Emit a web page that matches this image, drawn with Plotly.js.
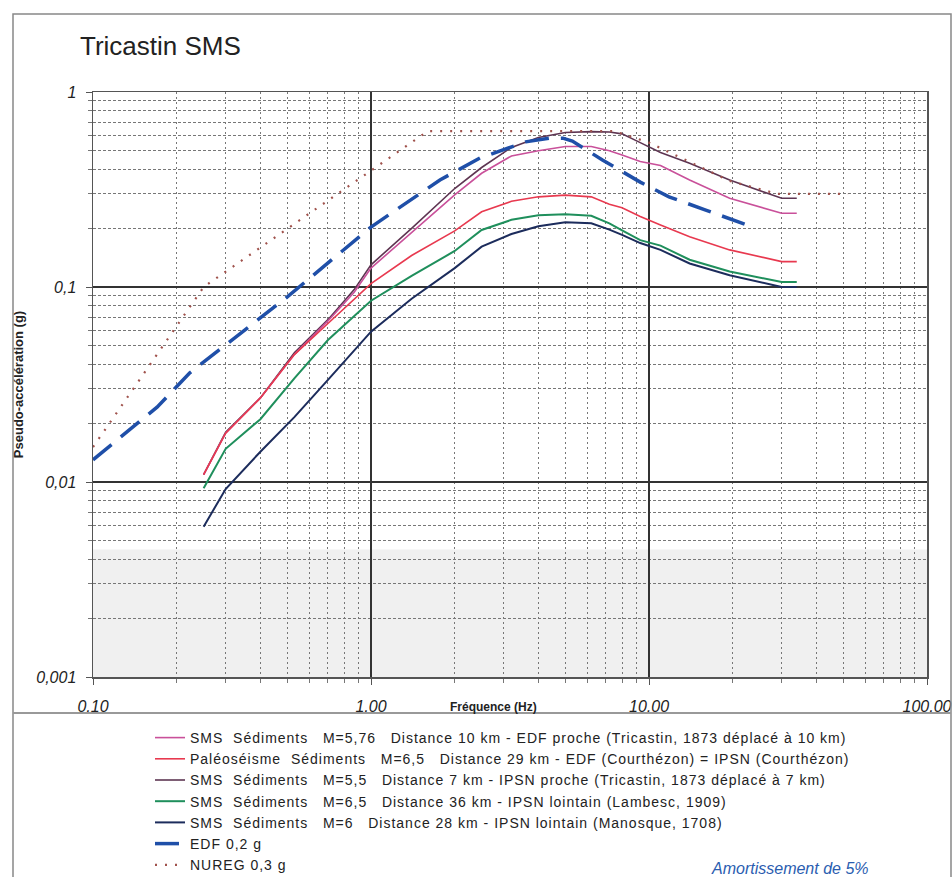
<!DOCTYPE html>
<html>
<head>
<meta charset="utf-8">
<script src="https://cdn.plot.ly/plotly-3.0.1.min.js"></script>
<style>
html,body{margin:0;padding:0;background:#fff;}
#chart{width:952px;height:877px;}
.legendtext{letter-spacing:1px;}
</style>
</head>
<body>
<div id="chart"></div>
<script>
// ---- data ----
const freqSMS = [0.25,0.3,0.4,0.53,0.7,0.87,1.0,1.4,2.0,2.5,3.2,4.0,5.0,6.2,7.2,8.0,9.3,11,14,19.5,30,34];
const smsM576_10km = [0.0109,0.0178,0.027,0.045,0.067,0.094,0.125,0.19,0.297,0.383,0.47,0.50,0.525,0.525,0.50,0.475,0.44,0.42,0.354,0.285,0.239,0.239];
const paleoM65_29km = [0.0109,0.0178,0.027,0.045,0.065,0.086,0.104,0.145,0.194,0.243,0.275,0.29,0.296,0.29,0.266,0.255,0.23,0.208,0.181,0.155,0.135,0.135];
const smsM55_7km = [0.0109,0.018,0.027,0.046,0.068,0.097,0.130,0.20,0.320,0.41,0.52,0.585,0.620,0.626,0.624,0.61,0.55,0.49,0.431,0.354,0.285,0.285];
const smsM65_36km = [0.0093,0.0148,0.021,0.034,0.0535,0.071,0.085,0.114,0.153,0.196,0.221,0.233,0.236,0.232,0.212,0.195,0.174,0.163,0.138,0.12,0.106,0.106];
const smsM6_28km = [0.0059,0.0092,0.0143,0.0215,0.0334,0.047,0.059,0.087,0.125,0.161,0.187,0.205,0.215,0.212,0.197,0.185,0.168,0.155,0.132,0.115,0.10,0.10];

const freqEDF = [0.1,0.17,0.223,0.5,1.0,1.77,2.47,2.82,3.6,4.4,4.9,5.3,6.8,9.3,11.8,16,22.7];
const edf02g = [0.013,0.0242,0.0363,0.089,0.203,0.354,0.459,0.49,0.555,0.58,0.58,0.56,0.448,0.345,0.29,0.248,0.207];

const freqNUREG = [0.1,0.25,1.6,7.5,10,12.2,19.5,29,33,52];
const nureg03g = [0.0151,0.1,0.63,0.63,0.55,0.48,0.35,0.30,0.30,0.30];

const seriesNames = [
  "SMS&nbsp; Sédiments&nbsp;&nbsp; M=5,76&nbsp;&nbsp; Distance 10 km - EDF proche (Tricastin, 1873 déplacé à 10 km)",
  "Paléoséisme&nbsp; Sédiments&nbsp;&nbsp; M=6,5&nbsp;&nbsp; Distance 29 km - EDF (Courthézon) = IPSN (Courthézon)",
  "SMS&nbsp; Sédiments&nbsp;&nbsp; M=5,5&nbsp;&nbsp; Distance 7 km - IPSN proche (Tricastin, 1873 déplacé à 7 km)",
  "SMS&nbsp; Sédiments&nbsp;&nbsp; M=6,5&nbsp;&nbsp; Distance 36 km - IPSN lointain (Lambesc, 1909)",
  "SMS&nbsp; Sédiments&nbsp;&nbsp; M=6&nbsp;&nbsp; Distance 28 km - IPSN lointain (Manosque, 1708)",
  "EDF 0,2 g",
  "NUREG 0,3 g"
];

const xTickVals = [0.1,1,10,100];
const xTickText = ["0,10","1,00","10,00","100,00"];
const yTickVals = [0.001,0.01,0.1,1];
const yTickText = ["0,001","0,01","0,1","1"];

// minor tick positions (2..9 per decade)
function minorTicks(e0, e1){
  const out=[];
  for(let e=e0;e<e1;e++){ for(let d=2;d<=9;d++){ out.push(d*Math.pow(10,e)); } }
  return out;
}

const font = "Arial, 'Liberation Sans', sans-serif";

// drawing order chosen so the red curve sits on top at low frequency; legend order via legendrank
const traces = [
  {x:freqSMS, y:smsM55_7km, name:seriesNames[2], legendrank:3, mode:'lines', line:{color:'#5e3552', width:1.6}},
  {x:freqSMS, y:smsM576_10km, name:seriesNames[0], legendrank:1, mode:'lines', line:{color:'#c9509a', width:1.6}},
  {x:freqSMS, y:paleoM65_29km, name:seriesNames[1], legendrank:2, mode:'lines', line:{color:'#e8394f', width:1.6}},
  {x:freqSMS, y:smsM6_28km, name:seriesNames[4], legendrank:5, mode:'lines', line:{color:'#1c2c5c', width:2}},
  {x:freqSMS, y:smsM65_36km, name:seriesNames[3], legendrank:4, mode:'lines', line:{color:'#1f8f5c', width:2}},
  {x:freqEDF, y:edf02g, name:seriesNames[5], legendrank:6, mode:'lines', line:{color:'#1f4fa8', width:3.5, dash:'24px,12px'}},
  {x:freqNUREG, y:nureg03g, name:seriesNames[6], legendrank:7, mode:'lines', line:{color:'#a0524c', width:2.2, dash:'2px,8px'}}
];

// pixel helpers for frame shapes in paper coords
const L=93, R=927, T=92, B=677;
const px = v => (v-L)/(R-L);
const py = v => (B-v)/(B-T);

const layout = {
  width:952, height:877,
  margin:{l:L, r:952-R, t:T, b:877-B, autoexpand:false},
  paper_bgcolor:'#ffffff', plot_bgcolor:'#ffffff',
  showlegend:true,
  title:{text:'Tricastin SMS', xref:'container', yref:'container', x:80/952, xanchor:'left', y:1-46/877, yanchor:'middle',
         font:{family:font, size:26, color:'#222'}},
  xaxis:{type:'log', range:[-1,2], tickmode:'array', tickvals:xTickVals, ticktext:xTickText,
         tickfont:{family:font, size:16, color:'#222', style:'italic'}, ticks:'outside', ticklen:6, tickcolor:'#555',
         ticklabelstandoff:8,
         showgrid:true, gridcolor:'#333', gridwidth:1.2, showline:true, linecolor:'#555', linewidth:1.5, mirror:true,
         zeroline:false,
         minor:{tickmode:'array', tickvals:minorTicks(-1,2), showgrid:true, gridcolor:'#777', gridwidth:1, griddash:'2px,3px', ticks:'outside', ticklen:4, tickcolor:'#777'}},
  yaxis:{type:'log', range:[-3,0], tickmode:'array', tickvals:yTickVals, ticktext:yTickText,
         tickfont:{family:font, size:16, color:'#222', style:'italic'}, ticks:'outside', ticklen:6, tickcolor:'#555',
         ticklabelstandoff:6,
         title:{text:'Pseudo-accélération (g)', font:{family:font, size:13, color:'#222', weight:'bold'}, standoff:9},
         showgrid:true, gridcolor:'#333', gridwidth:1.2, showline:true, linecolor:'#555', linewidth:1.5, mirror:true,
         zeroline:false,
         minor:{tickmode:'array', tickvals:minorTicks(-3,0), showgrid:true, gridcolor:'#777', gridwidth:1, griddash:'3px,2px', ticks:'outside', ticklen:4, tickcolor:'#777'}},
  legend:{x:px(150), xanchor:'left', y:py(722), yanchor:'top', bgcolor:'rgba(0,0,0,0)', borderwidth:0,
          font:{family:font, size:14, color:'#222'}, tracegroupgap:0, itemwidth:30, traceorder:'normal'},
  annotations:[
    {text:'Fréquence (Hz)', xref:'paper', yref:'paper', x:px(493), y:py(707), xanchor:'center', yanchor:'middle', showarrow:false,
     font:{family:font, size:12, color:'#222', weight:'bold'}},
    {text:'<i>Amortissement de 5%</i>', xref:'paper', yref:'paper', x:px(790), y:py(868), xanchor:'center', yanchor:'middle', showarrow:false,
     font:{family:font, size:16, color:'#2a5db0'}}
  ],
  shapes:[
    {type:'rect', xref:'x', yref:'y', x0:0.1, x1:100, y0:0.001, y1:0.0045, fillcolor:'#f0f0f0', line:{width:0}, layer:'below'},
    {type:'rect', xref:'paper', yref:'paper', x0:px(13), x1:px(951), y0:py(14), y1:py(880), line:{color:'#888', width:1.5}, fillcolor:'rgba(0,0,0,0)'},
    {type:'line', xref:'paper', yref:'paper', x0:px(13), x1:px(951), y0:py(713), y1:py(713), line:{color:'#999', width:2}}
  ]
};

Plotly.newPlot('chart', traces, layout, {displayModeBar:false, staticPlot:true});
</script>
</body>
</html>
